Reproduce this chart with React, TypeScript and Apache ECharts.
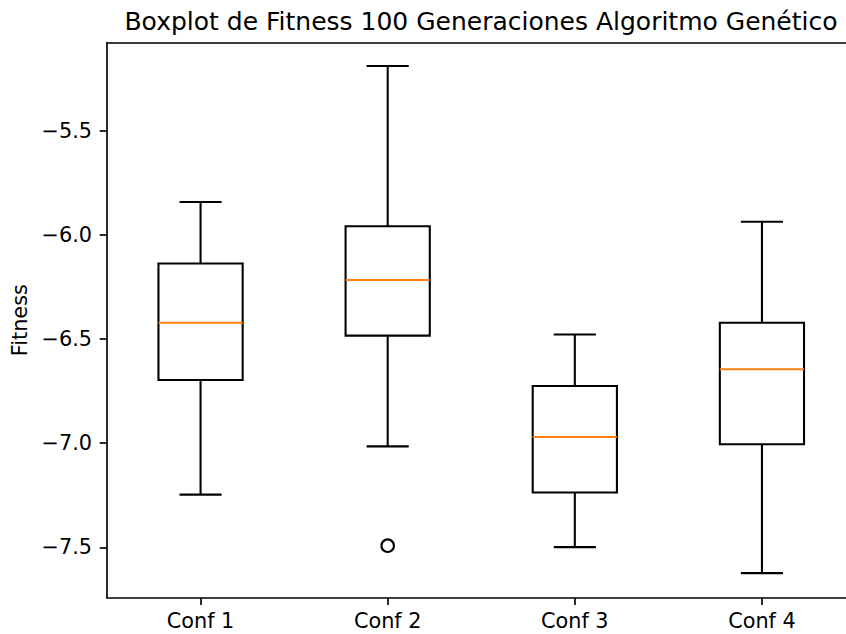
import React, { useEffect, useRef } from "react";
import * as echarts from "echarts";

const categories = ["Conf 1", "Conf 2", "Conf 3", "Conf 4"];
const lowWhisker = [-7.247, -7.015, -7.499, -7.624];
const q1 = [-6.696, -6.483, -7.237, -7.005];
const median = [-6.421, -6.216, -6.97, -6.645];
const q3 = [-6.137, -5.958, -6.725, -6.421];
const highWhisker = [-5.841, -5.188, -6.478, -5.936];
const outlierCats = [1];
const outlierValues = [-7.492];
const yTicks = [-7.5, -7.0, -6.5, -6.0, -5.5];

const FONT = "DejaVu Sans";
const LW = 2.08;
const SPINE = 1.67;
const INNER_W = 880;

export default function App() {
  const ref = useRef<HTMLDivElement>(null);
  useEffect(() => {
    if (!ref.current) return;
    const chart = echarts.init(ref.current, undefined, { renderer: "svg" });
    const boxData = categories.map((_, i) => [i, lowWhisker[i], q1[i], median[i], q3[i], highWhisker[i]]);
    const outData = outlierCats.map((c, i) => [c, outlierValues[i]]);
    chart.setOption({
      animation: false,
      backgroundColor: "#fff",
      title: {
        text: "Boxplot de Fitness 100 Generaciones Algoritmo Genético",
        left: 481,
        top: 9,
        padding: 0,
        textAlign: "center",
        textStyle: { fontFamily: FONT, fontSize: 25, fontWeight: "normal", color: "#000", lineHeight: 25 },
      },
      grid: {
        left: 107,
        right: INNER_W - 855.5,
        top: 42.7,
        bottom: 36.3,
        show: false,
      },
      xAxis: [
        {
          type: "category",
          data: categories,
          boundaryGap: true,
          position: "bottom",
          axisLine: { show: true, onZero: false, lineStyle: { color: "#000", width: SPINE } },
          axisTick: { show: true, alignWithLabel: true, length: 7.3, lineStyle: { color: "#000", width: SPINE } },
          axisLabel: { color: "#000", fontFamily: FONT, fontSize: 20.8, margin: 13, lineHeight: 21 },
          splitLine: { show: false },
        },
        {
          type: "category",
          data: categories,
          boundaryGap: true,
          position: "top",
          axisLine: { show: true, onZero: false, lineStyle: { color: "#000", width: SPINE } },
          axisTick: { show: false },
          axisLabel: { show: false },
          splitLine: { show: false },
        },
      ],
      yAxis: {
        type: "value",
        min: -7.742,
        max: -5.076,
        name: "Fitness",
        nameLocation: "middle",
        nameGap: 73,
        nameRotate: 90,
        nameTextStyle: { color: "#000", fontFamily: FONT, fontSize: 20.8 },
        axisLine: { show: true, onZero: false, lineStyle: { color: "#000", width: SPINE } },
        axisTick: { show: true, length: 7.3, customValues: yTicks, lineStyle: { color: "#000", width: SPINE } },
        axisLabel: {
          color: "#000",
          fontFamily: FONT,
          fontSize: 20.8,
          margin: 15,
          customValues: yTicks,
          formatter: (v: number) => v.toFixed(1).replace("-", "\u2212"),
        },
        splitLine: { show: false },
      },
      series: [
        {
          type: "custom",
          data: boxData,
          xAxisIndex: 0,
          encode: { x: 0, y: [1, 2, 3, 4, 5] },
          renderItem: (params: any, api: any) => {
            const idx = api.value(0);
            const pLow = api.coord([idx, api.value(1)]);
            const pQ1 = api.coord([idx, api.value(2)]);
            const pMed = api.coord([idx, api.value(3)]);
            const pQ3 = api.coord([idx, api.value(4)]);
            const pHigh = api.coord([idx, api.value(5)]);
            const catW = api.size([1, 0])[0];
            const hw = (catW * 0.45) / 2;
            const cw = (catW * 0.225) / 2;
            const x = pLow[0];
            const black = { stroke: "#000", lineWidth: LW, fill: "none" };
            return {
              type: "group",
              children: [
                { type: "rect", shape: { x: x - hw, y: pQ3[1], width: 2 * hw, height: pQ1[1] - pQ3[1] }, style: black },
                { type: "line", shape: { x1: x, y1: pQ1[1], x2: x, y2: pLow[1] }, style: black },
                { type: "line", shape: { x1: x, y1: pQ3[1], x2: x, y2: pHigh[1] }, style: black },
                { type: "line", shape: { x1: x - cw, y1: pLow[1], x2: x + cw, y2: pLow[1] }, style: black },
                { type: "line", shape: { x1: x - cw, y1: pHigh[1], x2: x + cw, y2: pHigh[1] }, style: black },
                { type: "line", shape: { x1: x - hw, y1: pMed[1], x2: x + hw, y2: pMed[1] }, style: { stroke: "#ff7f0e", lineWidth: LW } },
              ],
            };
          },
        },
        {
          type: "scatter",
          xAxisIndex: 0,
          data: outData,
          symbol: "circle",
          symbolSize: 12.5,
          itemStyle: { color: "#fff", borderColor: "#000", borderWidth: LW, opacity: 1 },
        },
      ],
    });
    return () => chart.dispose();
  }, []);
  return (
    <div style={{ position: "absolute", left: 0, top: 0, width: 846, height: 634, overflow: "hidden" }}>
      <div ref={ref} style={{ position: "absolute", left: 0, top: 0, width: INNER_W, height: 634 }} />
    </div>
  );
}
